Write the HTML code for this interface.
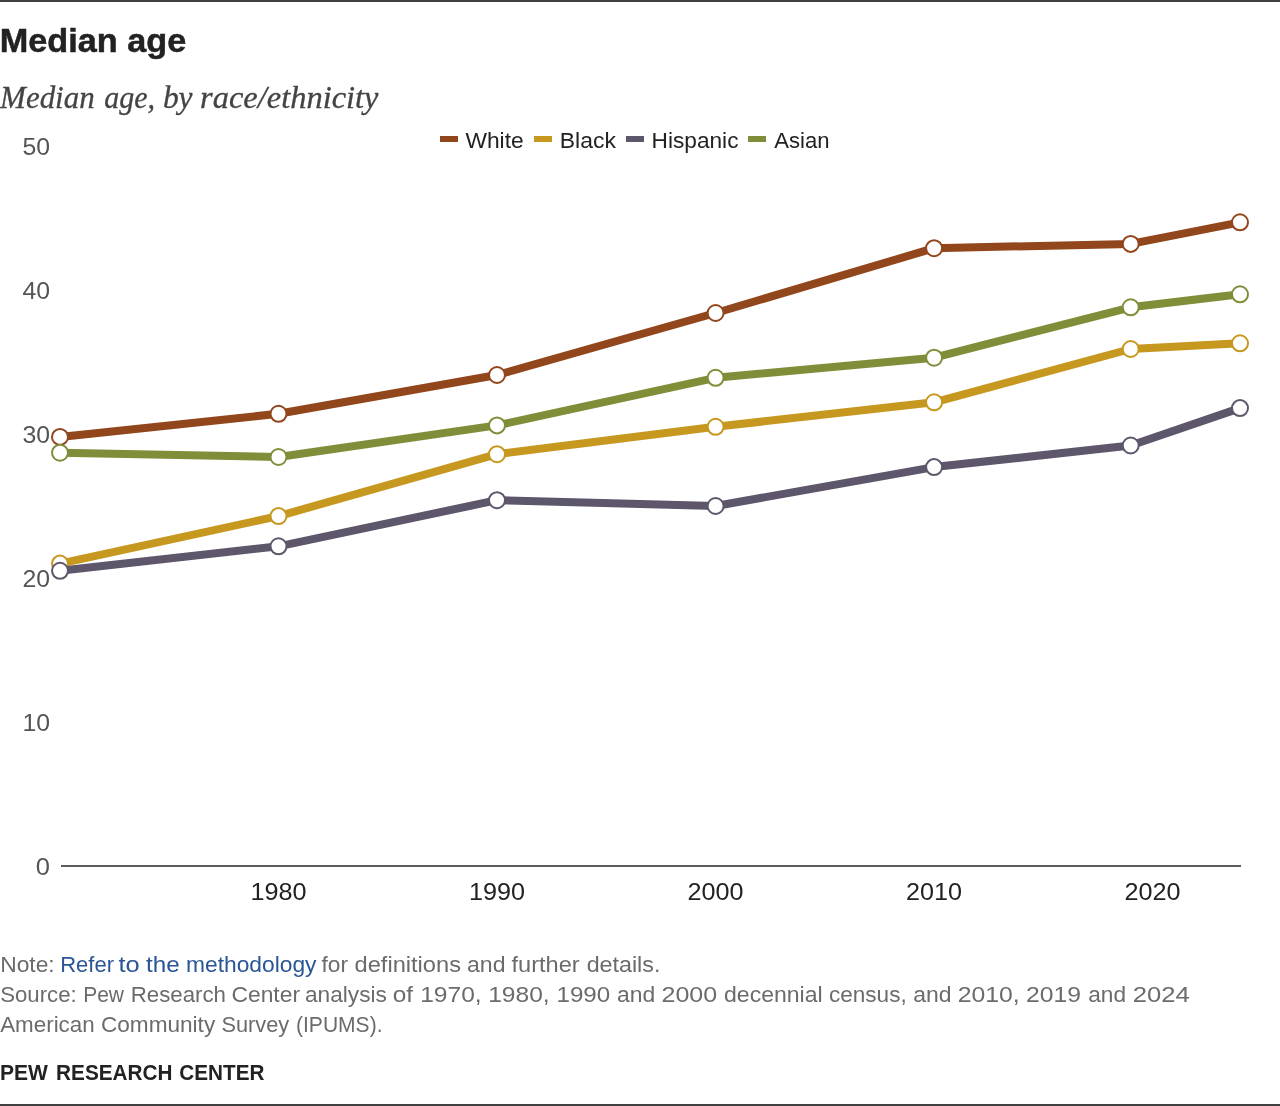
<!DOCTYPE html>
<html><head><meta charset="utf-8"><title>Median age</title>
<style>
html,body{margin:0;padding:0;background:#fff;}
body{width:1280px;height:1106px;overflow:hidden;font-family:"Liberation Sans", sans-serif;}
svg{display:block;position:absolute;left:0;top:0;z-index:5;will-change:transform;}
</style></head>
<body>
<svg width="1280" height="1106" viewBox="0 0 1280 1106">
<rect width="1280" height="1106" fill="#fff"/>
<rect x="0" y="0" width="1280" height="2" fill="#404040"/>
<rect x="0" y="1104" width="1280" height="2" fill="#404040"/>
<text x="-0.3" y="51.6" font-family='"Liberation Sans", sans-serif' font-size="33.8" font-weight="bold" font-style="normal" fill="#222" text-anchor="start" textLength="186.5" lengthAdjust="spacingAndGlyphs" stroke="#222" stroke-width="0.5">Median age</text>
<text x="0.1" y="108.1" font-family='"Liberation Serif", serif' font-size="31.5" font-weight="normal" font-style="italic" fill="#444" text-anchor="start" textLength="94.6" lengthAdjust="spacingAndGlyphs" stroke="#444" stroke-width="0.3">Median</text>
<text x="104.2" y="108.1" font-family='"Liberation Serif", serif' font-size="31.5" font-weight="normal" font-style="italic" fill="#444" text-anchor="start" textLength="50.8" lengthAdjust="spacingAndGlyphs" stroke="#444" stroke-width="0.3">age,</text>
<text x="162.9" y="108.1" font-family='"Liberation Serif", serif' font-size="31.5" font-weight="normal" font-style="italic" fill="#444" text-anchor="start" textLength="29.7" lengthAdjust="spacingAndGlyphs" stroke="#444" stroke-width="0.3">by</text>
<text x="200.1" y="108.1" font-family='"Liberation Serif", serif' font-size="31.5" font-weight="normal" font-style="italic" fill="#444" text-anchor="start" textLength="178.4" lengthAdjust="spacingAndGlyphs" stroke="#444" stroke-width="0.3">race/ethnicity</text>
<rect x="440" y="136" width="18" height="6" fill="#92461c"/>
<text x="465.4" y="147.6" font-family='"Liberation Sans", sans-serif' font-size="21.2" font-weight="normal" font-style="normal" fill="#222" text-anchor="start" textLength="58.3" lengthAdjust="spacingAndGlyphs">White</text>
<rect x="534" y="136" width="18" height="6" fill="#c6981f"/>
<text x="559.8" y="147.6" font-family='"Liberation Sans", sans-serif' font-size="21.2" font-weight="normal" font-style="normal" fill="#222" text-anchor="start" textLength="56.1" lengthAdjust="spacingAndGlyphs">Black</text>
<rect x="626" y="136" width="18" height="6" fill="#5e566b"/>
<text x="651.6" y="147.6" font-family='"Liberation Sans", sans-serif' font-size="21.2" font-weight="normal" font-style="normal" fill="#222" text-anchor="start" textLength="86.9" lengthAdjust="spacingAndGlyphs">Hispanic</text>
<rect x="748" y="136" width="18" height="6" fill="#808d39"/>
<text x="774.3" y="147.6" font-family='"Liberation Sans", sans-serif' font-size="21.2" font-weight="normal" font-style="normal" fill="#222" text-anchor="start" textLength="55.3" lengthAdjust="spacingAndGlyphs">Asian</text>
<text x="35.8" y="874.8" font-family='"Liberation Sans", sans-serif' font-size="23.2" font-weight="normal" font-style="normal" fill="#555" text-anchor="start" textLength="14.2" lengthAdjust="spacingAndGlyphs">0</text>
<text x="22.4" y="730.8" font-family='"Liberation Sans", sans-serif' font-size="23.2" font-weight="normal" font-style="normal" fill="#555" text-anchor="start" textLength="27.6" lengthAdjust="spacingAndGlyphs">10</text>
<text x="22.4" y="586.8" font-family='"Liberation Sans", sans-serif' font-size="23.2" font-weight="normal" font-style="normal" fill="#555" text-anchor="start" textLength="27.6" lengthAdjust="spacingAndGlyphs">20</text>
<text x="22.4" y="442.8" font-family='"Liberation Sans", sans-serif' font-size="23.2" font-weight="normal" font-style="normal" fill="#555" text-anchor="start" textLength="27.6" lengthAdjust="spacingAndGlyphs">30</text>
<text x="22.4" y="298.8" font-family='"Liberation Sans", sans-serif' font-size="23.2" font-weight="normal" font-style="normal" fill="#555" text-anchor="start" textLength="27.6" lengthAdjust="spacingAndGlyphs">40</text>
<text x="22.4" y="154.8" font-family='"Liberation Sans", sans-serif' font-size="23.2" font-weight="normal" font-style="normal" fill="#555" text-anchor="start" textLength="27.6" lengthAdjust="spacingAndGlyphs">50</text>
<rect x="61" y="865" width="1180" height="2" fill="#5c5c5c"/>
<text x="250.5" y="900" font-family='"Liberation Sans", sans-serif' font-size="23.5" font-weight="normal" font-style="normal" fill="#222" text-anchor="start" textLength="56" lengthAdjust="spacingAndGlyphs">1980</text>
<text x="469.0" y="900" font-family='"Liberation Sans", sans-serif' font-size="23.5" font-weight="normal" font-style="normal" fill="#222" text-anchor="start" textLength="56" lengthAdjust="spacingAndGlyphs">1990</text>
<text x="687.6" y="900" font-family='"Liberation Sans", sans-serif' font-size="23.5" font-weight="normal" font-style="normal" fill="#222" text-anchor="start" textLength="56" lengthAdjust="spacingAndGlyphs">2000</text>
<text x="906.1" y="900" font-family='"Liberation Sans", sans-serif' font-size="23.5" font-weight="normal" font-style="normal" fill="#222" text-anchor="start" textLength="56" lengthAdjust="spacingAndGlyphs">2010</text>
<text x="1124.6" y="900" font-family='"Liberation Sans", sans-serif' font-size="23.5" font-weight="normal" font-style="normal" fill="#222" text-anchor="start" textLength="56" lengthAdjust="spacingAndGlyphs">2020</text>
<polyline points="60.0,436.9 278.5,413.8 497.0,375.0 715.6,313.0 934.1,248.2 1130.7,243.9 1240.0,222.3" fill="none" stroke="#92461c" stroke-width="8" stroke-linejoin="round" stroke-linecap="round"/>
<circle cx="60.0" cy="436.9" r="8" fill="#fff" stroke="#92461c" stroke-width="2"/>
<circle cx="278.5" cy="413.8" r="8" fill="#fff" stroke="#92461c" stroke-width="2"/>
<circle cx="497.0" cy="375.0" r="8" fill="#fff" stroke="#92461c" stroke-width="2"/>
<circle cx="715.6" cy="313.0" r="8" fill="#fff" stroke="#92461c" stroke-width="2"/>
<circle cx="934.1" cy="248.2" r="8" fill="#fff" stroke="#92461c" stroke-width="2"/>
<circle cx="1130.7" cy="243.9" r="8" fill="#fff" stroke="#92461c" stroke-width="2"/>
<circle cx="1240.0" cy="222.3" r="8" fill="#fff" stroke="#92461c" stroke-width="2"/>
<polyline points="60.0,563.6 278.5,516.1 497.0,454.2 715.6,426.8 934.1,402.3 1130.7,349.0 1240.0,343.3" fill="none" stroke="#c6981f" stroke-width="8" stroke-linejoin="round" stroke-linecap="round"/>
<circle cx="60.0" cy="563.6" r="8" fill="#fff" stroke="#c6981f" stroke-width="2"/>
<circle cx="278.5" cy="516.1" r="8" fill="#fff" stroke="#c6981f" stroke-width="2"/>
<circle cx="497.0" cy="454.2" r="8" fill="#fff" stroke="#c6981f" stroke-width="2"/>
<circle cx="715.6" cy="426.8" r="8" fill="#fff" stroke="#c6981f" stroke-width="2"/>
<circle cx="934.1" cy="402.3" r="8" fill="#fff" stroke="#c6981f" stroke-width="2"/>
<circle cx="1130.7" cy="349.0" r="8" fill="#fff" stroke="#c6981f" stroke-width="2"/>
<circle cx="1240.0" cy="343.3" r="8" fill="#fff" stroke="#c6981f" stroke-width="2"/>
<polyline points="60.0,570.8 278.5,546.3 497.0,500.2 715.6,506.0 934.1,467.1 1130.7,445.5 1240.0,408.1" fill="none" stroke="#5e566b" stroke-width="8" stroke-linejoin="round" stroke-linecap="round"/>
<circle cx="60.0" cy="570.8" r="8" fill="#fff" stroke="#5e566b" stroke-width="2"/>
<circle cx="278.5" cy="546.3" r="8" fill="#fff" stroke="#5e566b" stroke-width="2"/>
<circle cx="497.0" cy="500.2" r="8" fill="#fff" stroke="#5e566b" stroke-width="2"/>
<circle cx="715.6" cy="506.0" r="8" fill="#fff" stroke="#5e566b" stroke-width="2"/>
<circle cx="934.1" cy="467.1" r="8" fill="#fff" stroke="#5e566b" stroke-width="2"/>
<circle cx="1130.7" cy="445.5" r="8" fill="#fff" stroke="#5e566b" stroke-width="2"/>
<circle cx="1240.0" cy="408.1" r="8" fill="#fff" stroke="#5e566b" stroke-width="2"/>
<polyline points="60.0,452.7 278.5,457.0 497.0,425.4 715.6,377.8 934.1,357.7 1130.7,307.3 1240.0,294.3" fill="none" stroke="#808d39" stroke-width="8" stroke-linejoin="round" stroke-linecap="round"/>
<circle cx="60.0" cy="452.7" r="8" fill="#fff" stroke="#808d39" stroke-width="2"/>
<circle cx="278.5" cy="457.0" r="8" fill="#fff" stroke="#808d39" stroke-width="2"/>
<circle cx="497.0" cy="425.4" r="8" fill="#fff" stroke="#808d39" stroke-width="2"/>
<circle cx="715.6" cy="377.8" r="8" fill="#fff" stroke="#808d39" stroke-width="2"/>
<circle cx="934.1" cy="357.7" r="8" fill="#fff" stroke="#808d39" stroke-width="2"/>
<circle cx="1130.7" cy="307.3" r="8" fill="#fff" stroke="#808d39" stroke-width="2"/>
<circle cx="1240.0" cy="294.3" r="8" fill="#fff" stroke="#808d39" stroke-width="2"/>
<text x="0.2" y="971.6" font-family='"Liberation Sans", sans-serif' font-size="22.4" font-weight="normal" font-style="normal" fill="#6b6b6b" text-anchor="start" textLength="54.5" lengthAdjust="spacingAndGlyphs">Note:</text>
<text x="60.2" y="971.6" font-family='"Liberation Sans", sans-serif' font-size="22.4" font-weight="normal" font-style="normal" fill="#2a5696" text-anchor="start" textLength="53.8" lengthAdjust="spacingAndGlyphs">Refer</text>
<text x="118.5" y="971.6" font-family='"Liberation Sans", sans-serif' font-size="22.4" font-weight="normal" font-style="normal" fill="#2a5696" text-anchor="start" textLength="21.2" lengthAdjust="spacingAndGlyphs">to</text>
<text x="146" y="971.6" font-family='"Liberation Sans", sans-serif' font-size="22.4" font-weight="normal" font-style="normal" fill="#2a5696" text-anchor="start" textLength="33.7" lengthAdjust="spacingAndGlyphs">the</text>
<text x="186" y="971.6" font-family='"Liberation Sans", sans-serif' font-size="22.4" font-weight="normal" font-style="normal" fill="#2a5696" text-anchor="start" textLength="130.5" lengthAdjust="spacingAndGlyphs">methodology</text>
<text x="321.5" y="971.6" font-family='"Liberation Sans", sans-serif' font-size="22.4" font-weight="normal" font-style="normal" fill="#6b6b6b" text-anchor="start" textLength="26.5" lengthAdjust="spacingAndGlyphs">for</text>
<text x="354.5" y="971.6" font-family='"Liberation Sans", sans-serif' font-size="22.4" font-weight="normal" font-style="normal" fill="#6b6b6b" text-anchor="start" textLength="106.5" lengthAdjust="spacingAndGlyphs">definitions</text>
<text x="467" y="971.6" font-family='"Liberation Sans", sans-serif' font-size="22.4" font-weight="normal" font-style="normal" fill="#6b6b6b" text-anchor="start" textLength="38.5" lengthAdjust="spacingAndGlyphs">and</text>
<text x="511.5" y="971.6" font-family='"Liberation Sans", sans-serif' font-size="22.4" font-weight="normal" font-style="normal" fill="#6b6b6b" text-anchor="start" textLength="68.2" lengthAdjust="spacingAndGlyphs">further</text>
<text x="586.7" y="971.6" font-family='"Liberation Sans", sans-serif' font-size="22.4" font-weight="normal" font-style="normal" fill="#6b6b6b" text-anchor="start" textLength="73.7" lengthAdjust="spacingAndGlyphs">details.</text>
<text x="0.2" y="1001.6" font-family='"Liberation Sans", sans-serif' font-size="22.4" font-weight="normal" font-style="normal" fill="#6b6b6b" text-anchor="start" textLength="76.5" lengthAdjust="spacingAndGlyphs">Source:</text>
<text x="83.2" y="1001.6" font-family='"Liberation Sans", sans-serif' font-size="22.4" font-weight="normal" font-style="normal" fill="#6b6b6b" text-anchor="start" textLength="40.8" lengthAdjust="spacingAndGlyphs">Pew</text>
<text x="130.7" y="1001.6" font-family='"Liberation Sans", sans-serif' font-size="22.4" font-weight="normal" font-style="normal" fill="#6b6b6b" text-anchor="start" textLength="95.3" lengthAdjust="spacingAndGlyphs">Research</text>
<text x="231.5" y="1001.6" font-family='"Liberation Sans", sans-serif' font-size="22.4" font-weight="normal" font-style="normal" fill="#6b6b6b" text-anchor="start" textLength="68.5" lengthAdjust="spacingAndGlyphs">Center</text>
<text x="305" y="1001.6" font-family='"Liberation Sans", sans-serif' font-size="22.4" font-weight="normal" font-style="normal" fill="#6b6b6b" text-anchor="start" textLength="81.9" lengthAdjust="spacingAndGlyphs">analysis</text>
<text x="392.7" y="1001.6" font-family='"Liberation Sans", sans-serif' font-size="22.4" font-weight="normal" font-style="normal" fill="#6b6b6b" text-anchor="start" textLength="20.3" lengthAdjust="spacingAndGlyphs">of</text>
<text x="420.2" y="1001.6" font-family='"Liberation Sans", sans-serif' font-size="22.4" font-weight="normal" font-style="normal" fill="#6b6b6b" text-anchor="start" textLength="61.5" lengthAdjust="spacingAndGlyphs">1970,</text>
<text x="488.2" y="1001.6" font-family='"Liberation Sans", sans-serif' font-size="22.4" font-weight="normal" font-style="normal" fill="#6b6b6b" text-anchor="start" textLength="61.5" lengthAdjust="spacingAndGlyphs">1980,</text>
<text x="556.5" y="1001.6" font-family='"Liberation Sans", sans-serif' font-size="22.4" font-weight="normal" font-style="normal" fill="#6b6b6b" text-anchor="start" textLength="53.7" lengthAdjust="spacingAndGlyphs">1990</text>
<text x="617" y="1001.6" font-family='"Liberation Sans", sans-serif' font-size="22.4" font-weight="normal" font-style="normal" fill="#6b6b6b" text-anchor="start" textLength="38.2" lengthAdjust="spacingAndGlyphs">and</text>
<text x="661.5" y="1001.6" font-family='"Liberation Sans", sans-serif' font-size="22.4" font-weight="normal" font-style="normal" fill="#6b6b6b" text-anchor="start" textLength="55.7" lengthAdjust="spacingAndGlyphs">2000</text>
<text x="724" y="1001.6" font-family='"Liberation Sans", sans-serif' font-size="22.4" font-weight="normal" font-style="normal" fill="#6b6b6b" text-anchor="start" textLength="98.7" lengthAdjust="spacingAndGlyphs">decennial</text>
<text x="829" y="1001.6" font-family='"Liberation Sans", sans-serif' font-size="22.4" font-weight="normal" font-style="normal" fill="#6b6b6b" text-anchor="start" textLength="77.7" lengthAdjust="spacingAndGlyphs">census,</text>
<text x="913.2" y="1001.6" font-family='"Liberation Sans", sans-serif' font-size="22.4" font-weight="normal" font-style="normal" fill="#6b6b6b" text-anchor="start" textLength="38.3" lengthAdjust="spacingAndGlyphs">and</text>
<text x="957.7" y="1001.6" font-family='"Liberation Sans", sans-serif' font-size="22.4" font-weight="normal" font-style="normal" fill="#6b6b6b" text-anchor="start" textLength="62.0" lengthAdjust="spacingAndGlyphs">2010,</text>
<text x="1026" y="1001.6" font-family='"Liberation Sans", sans-serif' font-size="22.4" font-weight="normal" font-style="normal" fill="#6b6b6b" text-anchor="start" textLength="55" lengthAdjust="spacingAndGlyphs">2019</text>
<text x="1088.2" y="1001.6" font-family='"Liberation Sans", sans-serif' font-size="22.4" font-weight="normal" font-style="normal" fill="#6b6b6b" text-anchor="start" textLength="37.8" lengthAdjust="spacingAndGlyphs">and</text>
<text x="1132.7" y="1001.6" font-family='"Liberation Sans", sans-serif' font-size="22.4" font-weight="normal" font-style="normal" fill="#6b6b6b" text-anchor="start" textLength="57.0" lengthAdjust="spacingAndGlyphs">2024</text>
<text x="0.2" y="1031.6" font-family='"Liberation Sans", sans-serif' font-size="22.4" font-weight="normal" font-style="normal" fill="#6b6b6b" text-anchor="start" textLength="94.5" lengthAdjust="spacingAndGlyphs">American</text>
<text x="101" y="1031.6" font-family='"Liberation Sans", sans-serif' font-size="22.4" font-weight="normal" font-style="normal" fill="#6b6b6b" text-anchor="start" textLength="114.2" lengthAdjust="spacingAndGlyphs">Community</text>
<text x="221.5" y="1031.6" font-family='"Liberation Sans", sans-serif' font-size="22.4" font-weight="normal" font-style="normal" fill="#6b6b6b" text-anchor="start" textLength="67.7" lengthAdjust="spacingAndGlyphs">Survey</text>
<text x="296" y="1031.6" font-family='"Liberation Sans", sans-serif' font-size="22.4" font-weight="normal" font-style="normal" fill="#6b6b6b" text-anchor="start" textLength="86.5" lengthAdjust="spacingAndGlyphs">(IPUMS).</text>
<text x="-0.1" y="1080" font-family='"Liberation Sans", sans-serif' font-size="22.3" font-weight="bold" font-style="normal" fill="#222" text-anchor="start" textLength="47.9" lengthAdjust="spacingAndGlyphs">PEW</text>
<text x="56.1" y="1080" font-family='"Liberation Sans", sans-serif' font-size="22.3" font-weight="bold" font-style="normal" fill="#222" text-anchor="start" textLength="116.4" lengthAdjust="spacingAndGlyphs">RESEARCH</text>
<text x="179.3" y="1080" font-family='"Liberation Sans", sans-serif' font-size="22.3" font-weight="bold" font-style="normal" fill="#222" text-anchor="start" textLength="85.1" lengthAdjust="spacingAndGlyphs">CENTER</text>
</svg>
</body></html>
